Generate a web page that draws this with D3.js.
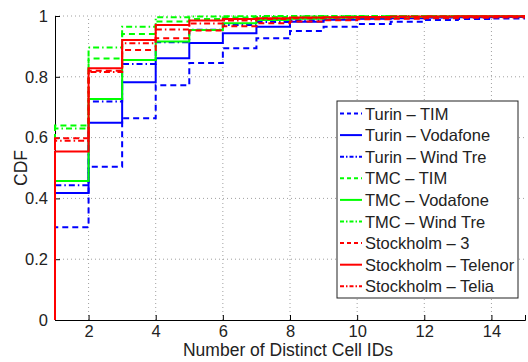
<!DOCTYPE html>
<html>
<head>
<meta charset="utf-8">
<script src="https://cdn.jsdelivr.net/npm/d3@7"></script>
<style>
  body { margin: 0; background: #fff; }
  text { font-family: "Liberation Sans", Arial, sans-serif; fill: #222; }
</style>
</head>
<body>
<div id="chart"></div>
<script>
// CDF value on each interval [k, k+1), k = 1..14
var cellIds = [1, 2, 3, 4, 5, 6, 7, 8, 9, 10, 11, 12, 13, 14];

var turinTim      = [0.305, 0.504, 0.664, 0.772, 0.845, 0.894, 0.927, 0.951, 0.965, 0.974, 0.981, 0.987, 0.990, 0.992];
var turinVodafone = [0.418, 0.649, 0.782, 0.861, 0.911, 0.943, 0.965, 0.981, 0.988, 0.991, 0.993, 0.995, 0.996, 0.997];
var turinWind     = [0.443, 0.719, 0.842, 0.914, 0.955, 0.970, 0.980, 0.986, 0.990, 0.993, 0.995, 0.996, 0.997, 0.998];
var tmcTim        = [0.640, 0.860, 0.941, 0.982, 0.990, 0.995, 0.997, 0.998, 0.999, 0.999, 1, 1, 1, 1];
var tmcVodafone   = [0.457, 0.727, 0.855, 0.916, 0.954, 0.976, 0.987, 0.991, 0.994, 0.996, 0.997, 0.998, 0.999, 0.999];
var tmcWind       = [0.630, 0.896, 0.965, 0.996, 0.998, 0.999, 1, 1, 1, 1, 1, 1, 1, 1];
var stoThree      = [0.598, 0.820, 0.888, 0.927, 0.952, 0.966, 0.976, 0.982, 0.986, 0.989, 0.991, 0.993, 0.994, 0.995];
var stoTelenor    = [0.554, 0.828, 0.921, 0.970, 0.985, 0.990, 0.993, 0.995, 0.996, 0.997, 0.998, 0.998, 0.999, 0.999];
var stoTelia      = [0.590, 0.816, 0.910, 0.956, 0.975, 0.985, 0.990, 0.993, 0.995, 0.996, 0.997, 0.998, 0.998, 0.999];

var seriesNames = ["Turin \u2013 TIM", "Turin \u2013 Vodafone", "Turin \u2013 Wind Tre",
                   "TMC \u2013 TIM", "TMC \u2013 Vodafone", "TMC \u2013 Wind Tre",
                   "Stockholm \u2013 3", "Stockholm \u2013 Telenor", "Stockholm \u2013 Telia"];
var seriesValues = [turinTim, turinVodafone, turinWind, tmcTim, tmcVodafone, tmcWind,
                    stoThree, stoTelenor, stoTelia];

var xTicks = [2, 4, 6, 8, 10, 12, 14];
var yTicks = [0, 0.2, 0.4, 0.6, 0.8, 1];

var colors = ["#0000ff", "#0000ff", "#0000ff", "#00ff00", "#00ff00", "#00ff00", "#ff0000", "#ff0000", "#ff0000"];
var dashes = ["6,4", null, "6,3,1.5,3", "6,4", null, "6,3,1.5,3", "6,4", null, "6,3,1.5,3"];

var width = 528, height = 362;
var margin = {left: 55, right: 3, top: 16, bottom: 42};

var svg = d3.select("#chart").append("svg")
  .attr("width", width)
  .attr("height", height);

var x = d3.scaleLinear().domain([1, 15]).range([margin.left, width - margin.right]);
var y = d3.scaleLinear().domain([0, 1]).range([height - margin.bottom, margin.top]);

// grid
svg.append("g").selectAll("line")
  .data(xTicks).enter().append("line")
  .attr("x1", d => x(d)).attr("x2", d => x(d))
  .attr("y1", y(0)).attr("y2", y(1))
  .style("stroke", "#a0a0a0").style("stroke-width", 1)
  .style("stroke-dasharray", "1,3");

svg.append("g").selectAll("line")
  .data(yTicks.slice(1)).enter().append("line")
  .attr("x1", x(1)).attr("x2", x(15))
  .attr("y1", d => y(d)).attr("y2", d => y(d))
  .style("stroke", "#a0a0a0").style("stroke-width", 1)
  .style("stroke-dasharray", "1,3");

// axes
var xAxis = d3.axisBottom(x).tickValues(xTicks).tickSize(-5).tickPadding(5).tickFormat(d3.format("d"));
var yAxis = d3.axisLeft(y).tickValues(yTicks).tickSize(-5).tickPadding(7).tickFormat(d => d);

var gx = svg.append("g").attr("transform", "translate(0," + y(0) + ")").call(xAxis);
var gy = svg.append("g").attr("transform", "translate(" + x(1) + ",0)").call(yAxis);
[gx, gy].forEach(function(g) {
  g.select(".domain").style("stroke", "#000").style("stroke-width", 1);
  g.selectAll(".tick line").style("stroke", "#000");
  g.selectAll(".tick text").style("font-size", "16.5px").style("fill", "#222")
    .style("font-family", "'Liberation Sans', Arial, sans-serif");
});

// lines
svg.append("clipPath").attr("id", "clip")
  .append("rect").attr("x", x(1) - 2).attr("y", y(1) - 2)
  .attr("width", x(15) - x(1) + 4).attr("height", y(0) - y(1) + 2);

var line = d3.line()
  .x(d => x(d[0]))
  .y(d => y(d[1]))
  .curve(d3.curveStepAfter);

seriesValues.forEach(function(vals, i) {
  var pts = [[1, 0]].concat(vals.map((v, k) => [cellIds[k], v]));
  pts.push([15, vals[vals.length - 1]]);
  svg.append("path")
    .attr("clip-path", "url(#clip)")
    .attr("d", line(pts))
    .style("fill", "none")
    .style("stroke", colors[i])
    .style("stroke-width", 2)
    .style("stroke-dasharray", dashes[i]);
});

// axis titles
svg.append("text")
  .attr("x", 288).attr("y", 356)
  .attr("text-anchor", "middle")
  .style("font-size", "17.5px")
  .text("Number of Distinct Cell IDs");

svg.append("text")
  .attr("transform", "translate(27," + y(0.5) + ") rotate(-90)")
  .attr("text-anchor", "middle")
  .style("font-size", "17.5px")
  .text("CDF");

// legend
var lg = svg.append("g").attr("transform", "translate(337,101)");
lg.append("rect").attr("width", 181).attr("height", 197)
  .style("fill", "#fff").style("stroke", "#222").style("stroke-width", 1);

seriesNames.forEach(function(name, i) {
  var cy = 12.5 + i * 21.6;
  lg.append("line")
    .attr("x1", 3).attr("x2", 25).attr("y1", cy).attr("y2", cy)
    .style("stroke", colors[i]).style("stroke-width", 2)
    .style("stroke-dasharray", dashes[i] ? (dashes[i] === "6,4" ? "4,3" : "4,2,1.5,2") : null);
  lg.append("text")
    .attr("x", 28).attr("y", cy + 6)
    .style("font-size", "16.5px")
    .text(name);
});
</script>
</body>
</html>
